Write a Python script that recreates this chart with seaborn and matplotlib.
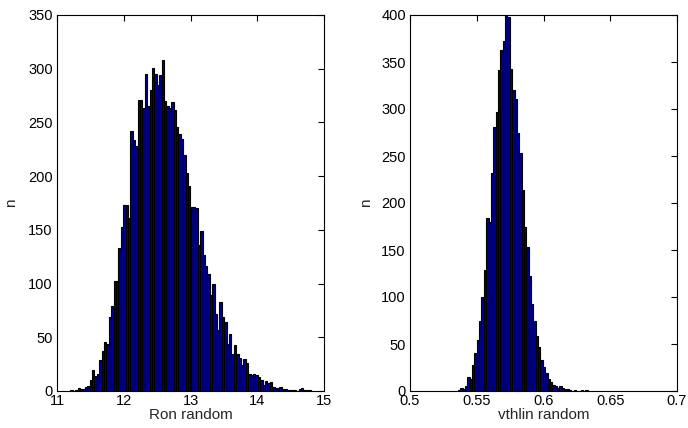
import numpy as np
import pandas as pd
import matplotlib
matplotlib.use("Agg")
import matplotlib.pyplot as plt
import seaborn as sns

# ---- data: left histogram (Ron random), 100 bins ----
ron_start = 11.20
ron_width = 0.036
ron_counts = [1, 0, 1, 3, 2, 2, 4, 5, 10, 20,
              14, 16, 29, 37, 46, 44, 69, 79, 102, 102,
              133, 153, 173, 173, 161, 242, 234, 228, 271, 271,
              263, 295, 265, 280, 301, 295, 285, 294, 308, 270,
              265, 263, 269, 262, 246, 239, 235, 220, 203, 191,
              171, 171, 170, 136, 149, 127, 116, 109, 89, 100,
              72, 57, 83, 69, 64, 44, 53, 34, 43, 34,
              31, 24, 30, 26, 16, 15, 16, 15, 13, 10,
              6, 9, 7, 8, 4, 3, 3, 4, 2, 2,
              1, 1, 1, 1, 0, 2, 3, 1, 1, 1]

# ---- data: right histogram (vthlin random) ----
vth_start = 0.5358
vth_width = 0.00177
vth_counts = [1, 3, 2, 5, 15, 13, 28, 40, 54, 74,
              100, 129, 184, 180, 232, 281, 297, 341, 363, 372,
              400, 398, 343, 320, 311, 274, 253, 214, 175, 153,
              122, 93, 74, 58, 47, 33, 26, 19, 13, 10,
              6, 5, 3, 5, 3, 2, 2, 1, 0, 1,
              0, 0, 1, 0, 1]

left_xticks = [11, 12, 13, 14, 15]
left_yticks = [0, 50, 100, 150, 200, 250, 300, 350]
right_xticks = [0.5, 0.55, 0.6, 0.65, 0.7]
right_xticklabels = ["0.5", "0.55", "0.6", "0.65", "0.7"]
right_yticks = [0, 50, 100, 150, 200, 250, 300, 350, 400]

sns.set_style("white")
plt.rcParams['font.family'] = ['Liberation Sans', 'DejaVu Sans']

fig = plt.figure(figsize=(6.88, 4.28), dpi=100)
axL = fig.add_axes([57/688, 37/428, 267/688, 376/428])
axR = fig.add_axes([410/688, 37/428, 267/688, 376/428])

face = '#00008F'

def draw(ax, start, width, counts):
    n = len(counts)
    edges = [start + width * i for i in range(n + 1)]
    centers = [(edges[i] + edges[i + 1]) / 2 for i in range(n)]
    df = pd.DataFrame({'x': centers, 'w': counts})
    sns.histplot(data=df, x='x', weights='w', bins=edges, ax=ax,
                 color=face, edgecolor='black', linewidth=0.8, alpha=1.0)

draw(axL, ron_start, ron_width, ron_counts)
draw(axR, vth_start, vth_width, vth_counts)

axL.set_xlim(11, 15)
axL.set_ylim(0, 350)
axL.set_xticks(left_xticks)
axL.set_xticklabels([str(t) for t in left_xticks])
axL.set_yticks(left_yticks)
axL.set_xlabel('Ron random', fontsize=11, labelpad=0.5)
axL.set_ylabel('n', fontsize=11, labelpad=7)

axR.set_xlim(0.5, 0.7)
axR.set_ylim(0, 400)
axR.set_xticks(right_xticks)
axR.set_xticklabels(right_xticklabels)
axR.set_yticks(right_yticks)
axR.set_xlabel('vthlin random', fontsize=11, labelpad=0.5)
axR.set_ylabel('n', fontsize=11, labelpad=6)

for ax in (axL, axR):
    ax.tick_params(direction='in', top=True, right=True, length=4,
                   width=0.8, labelsize=10.5, pad=3, colors='black')
    ax.tick_params(axis='x', pad=2)
    for s in ax.spines.values():
        s.set_visible(True)
        s.set_color('black')
        s.set_linewidth(0.8)

fig.savefig('out.png', dpi=100, facecolor='white')
